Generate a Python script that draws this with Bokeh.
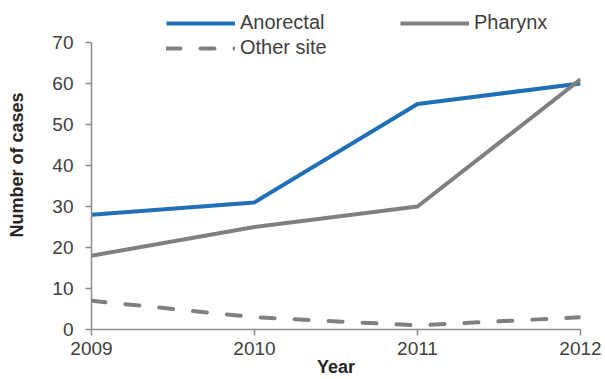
from bokeh.plotting import figure
from bokeh.models import Range1d, Legend, LegendItem, FixedTicker
from bokeh.embed import file_html
from bokeh.resources import INLINE

years = [2009, 2010, 2011, 2012]
anorectal = [28, 31, 55, 60]
pharynx = [18, 25, 30, 61]
other_site = [7, 3, 1, 3]
y_ticks = [0, 10, 20, 30, 40, 50, 60, 70]

BLUE = "#2070b7"
GRAY = "#808080"
TEXT = "#404040"
AXIS = "#8c8c8c"
FONT = "Liberation Sans"

# frame spans the full top so the legend (above the 70 line) is not clipped;
# the y axis itself is bounded to 0..70
y_top = 70 * 329 / (329 - 42)

p = figure(width=605, height=379, output_backend="svg", toolbar_location=None,
           x_range=Range1d(2009, 2012), y_range=Range1d(0, y_top),
           min_border_left=91, min_border_right=25, min_border_top=0, min_border_bottom=50)
p.outline_line_color = None
p.xgrid.visible = False
p.ygrid.visible = False

r1 = p.line(years, anorectal, line_color=BLUE, line_width=4)
r2 = p.line(years, pharynx, line_color=GRAY, line_width=4)
r3 = p.line(years, other_site, line_color=GRAY, line_width=4, line_dash="14 20", line_cap="round")

for ax in (p.xaxis[0], p.yaxis[0]):
    ax.axis_line_color = AXIS
    ax.axis_line_width = 1.5
    ax.major_tick_line_color = AXIS
    ax.major_tick_line_width = 1.5
    ax.major_tick_in = 0
    ax.major_tick_out = 6
    ax.minor_tick_line_color = None
    ax.major_label_text_font = FONT
    ax.major_label_text_font_size = "19px"
    ax.major_label_text_color = TEXT
    ax.axis_label_text_font = FONT
    ax.axis_label_text_font_style = "bold"
    ax.axis_label_text_font_size = "18px"
    ax.axis_label_text_color = "#262626"

p.yaxis.bounds = (0, 70)
p.xaxis.ticker = FixedTicker(ticks=years)
p.yaxis.ticker = FixedTicker(ticks=y_ticks)
p.xaxis.axis_label = "Year"
p.yaxis.axis_label = "Number of cases"
p.xaxis.major_label_standoff = 6
p.xaxis.axis_label_standoff = -1
p.yaxis.major_label_standoff = 12
p.yaxis.axis_label_standoff = 22

legend = Legend(items=[LegendItem(label="Anorectal", renderers=[r1]),
                       LegendItem(label="Pharynx", renderers=[r2]),
                       LegendItem(label="Other site", renderers=[r3])],
                orientation="horizontal", ncols=2,
                location=(75, 270),
                glyph_width=69, glyph_height=20, label_height=20, label_standoff=5,
                label_width=158, spacing=2, padding=0, margin=0,
                background_fill_alpha=0, border_line_color=None,
                label_text_font=FONT, label_text_font_size="20px",
                label_text_color=TEXT)
p.add_layout(legend, "center")

open("out.html", "w").write(file_html(p, INLINE))
